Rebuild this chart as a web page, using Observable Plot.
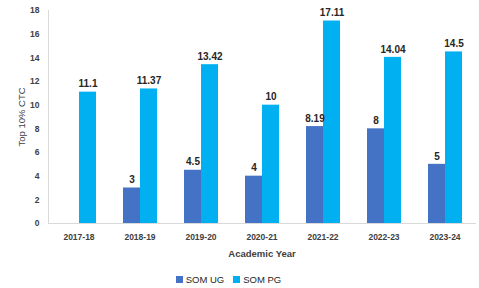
<!DOCTYPE html>
<html><head><meta charset="utf-8">
<script src="https://cdn.jsdelivr.net/npm/d3@7"></script>
<script src="https://cdn.jsdelivr.net/npm/@observablehq/plot@0.6"></script>
<style>
body{margin:0;background:#fff;font-family:"Liberation Sans",Arial,sans-serif;}
#legend{display:flex;justify-content:center;gap:9px;font-size:9.5px;color:#262626;height:18px;align-items:center;padding-right:22px;}
#legend span.sw{display:inline-block;width:7px;height:7px;margin-right:3px;vertical-align:-0.5px;}
#chart svg [aria-label="y-axis tick label"] text,
#chart svg [aria-label="fx-axis tick label"] text{font-weight:bold;fill:#404040;}
#chart svg [aria-label="fx-axis label"] text{font-weight:bold;font-size:9.5px;fill:#404040;}
#chart svg [aria-label="y-axis label"] text{font-size:9.5px;fill:#404040;}
</style></head>
<body>
<div id="chart"></div>
<script>
const years = ["2017-18","2018-19","2019-20","2020-21","2021-22","2022-23","2023-24"];
const series = ["SOM UG","SOM PG"];
const ugValues = [null,3,4.5,4,8.19,8,5];
const pgValues = [11.1,11.37,13.42,10,17.11,14.04,14.5];
const colors = ["#4472C4","#00B0F0"];
const yTicks = [0,2,4,6,8,10,12,14,16,18];

const data = [];
years.forEach((y,i)=>{
  if (ugValues[i] != null) data.push({year:y, series:"SOM UG", value:ugValues[i]});
  if (pgValues[i] != null) data.push({year:y, series:"SOM PG", value:pgValues[i]});
});

const plot = Plot.plot({
  width: 479, height: 270,
  marginLeft: 46, marginRight: 2, marginTop: 10, marginBottom: 47,
  style:{fontFamily:"Liberation Sans, Arial, sans-serif", fontSize:"8.5px", color:"#404040", background:"#fff"},
  fx:{domain: years, padding: 0, axis:"bottom", tickSize:0, tickPadding:10, label:"Academic Year", labelAnchor:"center", labelOffset:33},
  x:{domain: series, axis:null, paddingInner:0, paddingOuter:0.71},
  y:{domain:[0,18], ticks:yTicks, tickSize:0, tickPadding:9, label:"Top 10% CTC", labelAnchor:"center", labelArrow:"none", labelOffset:30},
  color:{domain: series, range: colors},
  marks:[
    Plot.barY(data,{fx:"year", x:"series", y:"value", fill:"series"}),
    Plot.text(data,{fx:"year", x:"series", y:"value", text:d=>String(d.value), dy:-8, fontWeight:"bold", fontSize:10, fill:"#262626"}),
    Plot.frame({facet:"super", anchor:"left", stroke:"#d9d9d9"}),
    Plot.frame({facet:"super", anchor:"bottom", stroke:"#d9d9d9"})
  ]
});
document.getElementById("chart").appendChild(plot);
const leg = document.createElement("div");
leg.id = "legend";
leg.innerHTML = series.map((s,i)=>`<span><span class="sw" style="background:${colors[i]}"></span>${s}</span>`).join("");
document.getElementById("chart").appendChild(leg);
</script>
</body></html>
